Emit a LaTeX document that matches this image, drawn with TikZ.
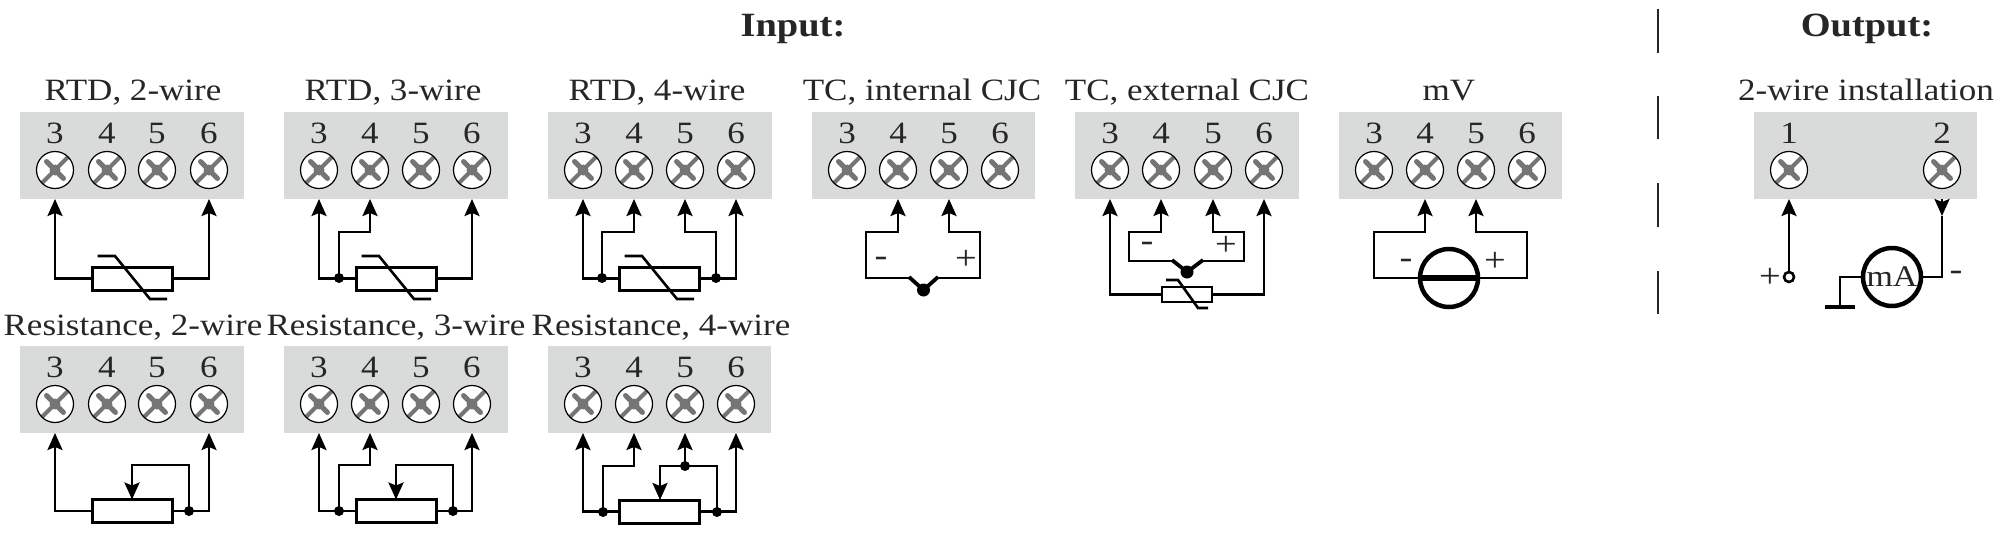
\documentclass[tikz,border=0pt]{standalone}
\usepackage{fontspec}
\setmainfont[FakeStretch=1.13]{Liberation Serif}
\usetikzlibrary{arrows.meta,calc}
\definecolor{panelgray}{HTML}{D9DBDA}
\definecolor{slotgray}{HTML}{757575}
\definecolor{inkdark}{HTML}{262626}
\tikzset{
  x=1pt,y=-1pt,
  panelbox/.style={fill=panelgray,draw=none,inner sep=0pt,outer sep=0pt},
  screw/.style={circle,draw=black,line width=1.2pt,fill=white,minimum size=37pt,inner sep=0pt,outer sep=0pt,
    path picture={
      \coordinate (cc) at (path picture bounding box.center);
      \draw[slotgray,line width=4.2pt] ([xshift=-20pt,yshift=-20pt]cc) -- ([xshift=20pt,yshift=20pt]cc);
      \draw[slotgray,line width=5pt,line cap=round] ([xshift=-8.5pt,yshift=8.5pt]cc) -- ([xshift=8.5pt,yshift=-8.5pt]cc);
      \fill[slotgray] (cc) circle[radius=5.5pt];
    }},
  digit/.style={font=\fontsize{31}{34}\selectfont,text=inkdark,anchor=base,inner sep=0pt},
  heading/.style={font=\fontsize{31}{34}\selectfont,text=inkdark,anchor=base,inner sep=0pt},
  bighead/.style={font=\fontsize{34}{38}\selectfont\bfseries,text=inkdark,anchor=base,inner sep=0pt},
  sign/.style={font=\fontsize{34}{36}\selectfont,text=inkdark,inner sep=0pt},
  wire/.style={draw=black,line width=2.6pt,line join=miter},
  arr/.style={wire,-{Stealth[length=17pt,width=15pt,inset=3pt]}},
  res/.style={draw=black,line width=3pt,fill=white,inner sep=0pt,outer sep=0pt,minimum width=80pt,minimum height=23pt},
  resw/.style={res,minimum width=81pt},
  ressm/.style={res,minimum width=50pt,minimum height=15pt,line width=2.6pt},
  dot/.style={circle,fill=black,minimum size=10pt,inner sep=0pt,outer sep=0pt},
  bigdot/.style={circle,fill=black,minimum size=13pt,inner sep=0pt,outer sep=0pt},
  slash/.style={draw=black,line width=2.6pt},
  joint/.style={draw=black,line width=3.8pt},
  sep/.style={draw=inkdark,line width=2.2pt},
  meter/.style={circle,draw=black,line width=4.5pt,fill=white,inner sep=0pt,outer sep=0pt,minimum size=58pt},
}
% #1 name, #2 left, #3 right, #4 top, #5-#8 terminal x
\newcommand{\termpanel}[8]{%
  \node[panelbox,minimum width={#3pt-#2pt},minimum height=87pt] (#1) at ({(#2+#3)/2},{#4+43.5}) {};
  \node[digit] (#1-n3) at (#5,{#4+31}) {3};
  \node[digit] (#1-n4) at (#6,{#4+31}) {4};
  \node[digit] (#1-n5) at (#7,{#4+31}) {5};
  \node[digit] (#1-n6) at (#8,{#4+31}) {6};
  \node[screw] (#1-3) at (#5,{#4+58}) {};
  \node[screw] (#1-4) at (#6,{#4+58}) {};
  \node[screw] (#1-5) at (#7,{#4+58}) {};
  \node[screw] (#1-6) at (#8,{#4+58}) {};
}
% slash across a resistor: #1 dx
\newcommand{\rtdslash}[1]{%
  \draw[slash] ({97.5+#1},256) -- ({115+#1},256) -- ({150+#1},299) -- ({167+#1},299);
}
\begin{document}
\begin{tikzpicture}
\useasboundingbox (0,0) rectangle (2000,533);
\fill[white] (0,0) rectangle (2000,533);

% headings
\node[bighead] (hin) at (793,36) {Input:};
\node[bighead] (hout) at (1867,36) {Output:};
\node[heading] (t1) at (133,100) {RTD, 2-wire};
\node[heading] (t2) at (393,100) {RTD, 3-wire};
\node[heading] (t3) at (657,100) {RTD, 4-wire};
\node[heading] (t4) at (922,100) {TC, internal CJC};
\node[heading] (t5) at (1187,100) {TC, external CJC};
\node[heading] (t6) at (1449,100) {mV};
\node[heading] (t7) at (1866,100) {2-wire installation};
\node[heading] (t8) at (133,335) {Resistance, 2-wire};
\node[heading] (t9) at (396,335) {Resistance, 3-wire};
\node[heading] (t10) at (661,335) {Resistance, 4-wire};

% separator
\draw[sep] (1658,9) -- (1658,53);
\draw[sep] (1658,96) -- (1658,139);
\draw[sep] (1658,183) -- (1658,227);
\draw[sep] (1658,271) -- (1658,314);

% panels
\termpanel{a}{20}{244}{112}{55}{107}{157}{209}
\termpanel{b}{284}{508}{112}{319}{370}{421}{472}
\termpanel{c}{548}{772}{112}{583}{634}{685}{736}
\termpanel{d}{812}{1035}{112}{847}{898}{949}{1000}
\termpanel{e}{1075}{1299}{112}{1110}{1161}{1213}{1264}
\termpanel{f}{1339}{1562}{112}{1374}{1425}{1476}{1527}
\termpanel{g}{20}{244}{346}{55}{107}{157}{209}
\termpanel{h}{284}{508}{346}{319}{370}{421}{472}
\termpanel{i}{548}{771}{346}{583}{634}{685}{736}

% output panel
\node[panelbox,minimum width=223pt,minimum height=87pt] (o) at (1865.5,155.5) {};
\node[digit] (o-n1) at (1789,143) {1};
\node[digit] (o-n2) at (1942,143) {2};
\node[screw] (o-1) at (1789,170) {};
\node[screw] (o-2) at (1942,170) {};

% RTD 2-wire
\node[res] (ra) at (132,278.5) {};
\draw[arr] (ra.west) -| (a-3|-a.south);
\draw[arr] (ra.east) -| (a-6|-a.south);
\rtdslash{0}

% RTD 3-wire
\node[res] (rb) at (396,278.5) {};
\node[dot] (db) at (339,278) {};
\draw[arr] (rb.west) -| (b-3|-b.south);
\draw[arr] (rb.east) -| (b-6|-b.south);
\draw[arr] (db.center) -- (339,232) -| (b-4|-b.south);
\rtdslash{264}

% RTD 4-wire
\node[res] (rc) at (659.5,278.5) {};
\node[dot] (dc1) at (602,278) {};
\node[dot] (dc2) at (716,278) {};
\draw[arr] (rc.west) -| (c-3|-c.south);
\draw[arr] (rc.east) -| (c-6|-c.south);
\draw[arr] (dc1.center) -- (602,232) -| (c-4|-c.south);
\draw[arr] (dc2.center) -- (716,232) -| (c-5|-c.south);
\rtdslash{527}

% TC internal
\node[bigdot] (dd) at (923.5,290) {};
\draw[arr] (909,278) -- (866,278) -- (866,232) -| (d-4|-d.south);
\draw[arr] (938,278) -- (980,278) -- (980,232) -| (d-5|-d.south);
\draw[joint] (dd.center) -- (909,277);
\draw[joint] (dd.center) -- (938,277);
\node[sign] (dminus) at (881,262) {-};
\node[sign] (dplus) at (966,260) {+};

% TC external
\node[ressm] (re) at (1187,294.5) {};
\node[bigdot] (de) at (1187,272) {};
\draw[arr] (re.west) -| (e-3|-e.south);
\draw[arr] (re.east) -| (e-6|-e.south);
\draw[slash] (1166,280) -- (1178,280) -- (1198,308) -- (1208,308);
\draw[arr] (1172,261) -- (1129,261) -- (1129,232) -| (e-4|-e.south);
\draw[arr] (1203,261) -- (1244,261) -- (1244,232) -| (e-5|-e.south);
\draw[joint] (de.center) -- (1172,260);
\draw[joint] (de.center) -- (1203,260);
\node[sign] (eminus) at (1147,247) {-};
\node[sign] (eplus) at (1226,246) {+};

% mV
\node[meter] (mv) at (1449,278) {};
\draw[arr] (mv.west) -- (1374,278) -- (1374,232) -| (f-4|-f.south);
\draw[arr] (mv.east) -- (1527,278) -- (1527,232) -| (f-5|-f.south);
\draw[line width=6pt] (mv.west) -- (mv.east);
\node[sign] (fminus) at (1406,264) {-};
\node[sign] (fplus) at (1495,262) {+};

% Resistance 2-wire
\node[res] (rg) at (132,511) {};
\node[dot] (dg) at (189,511) {};
\coordinate (wg) at (132,499.5);
\draw[arr] (rg.west) -| (g-3|-g.south);
\draw[arr] (rg.east) -| (g-6|-g.south);
\draw[arr] (dg.center) -- (189,465) -| (wg);

% Resistance 3-wire
\node[res] (rh) at (396,511) {};
\node[dot] (dh1) at (339,511) {};
\node[dot] (dh2) at (453,511) {};
\coordinate (wh) at (396,499.5);
\draw[arr] (rh.west) -| (h-3|-h.south);
\draw[arr] (rh.east) -| (h-6|-h.south);
\draw[arr] (dh1.center) -- (339,465) -| (h-4|-h.south);
\draw[arr] (dh2.center) -- (453,465) -| (wh);

% Resistance 4-wire
\node[res] (ri) at (659.5,511.5) {};
\node[dot] (di1) at (603,512) {};
\node[dot] (di2) at (717,512) {};
\node[dot] (di3) at (685,466) {};
\coordinate (wi) at (660,500);
\draw[arr] (ri.west) -| (i-3|-i.south);
\draw[arr] (ri.east) -| (i-6|-i.south);
\draw[arr] (di1.center) -- (603,466) -| (i-4|-i.south);
\draw[arr] (di2.center) -- (717,466) -| (wi);
\draw[arr] (di3.center) -- (i-5|-i.south);

% Output wiring
\node[circle,draw=black,line width=2.6pt,fill=white,minimum size=10pt,inner sep=0pt] (plusterm) at (1789,277) {};
\node[sign] (oplus) at (1770,278) {+};
\draw[arr] (plusterm.north) -- (o-1|-o.south);
\node[meter,font=\fontsize{30}{34}\selectfont,text=inkdark] (ma) at (1892,277) {mA};
\coordinate (otip) at (1942,216);
\draw[wire] (ma.east) -- (1942,277) -- (otip);
\draw[arr] (o-2|-o.south) -- (otip);
\node[sign] (ominus) at (1956,276) {-};
\coordinate (gnd) at (1840,307);
\draw[wire] (ma.west) -| (gnd);
\draw[line width=4.5pt] (1825,307) -- (1855,307);
\end{tikzpicture}
\end{document}
